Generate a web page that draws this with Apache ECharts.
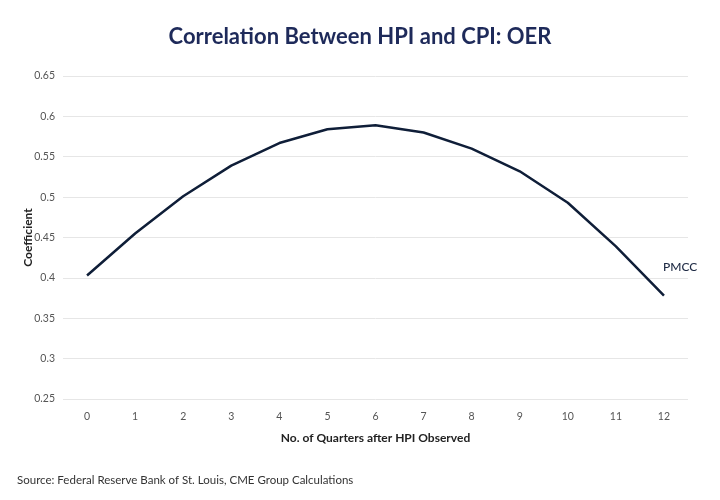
<!DOCTYPE html>
<html>
<head>
<meta charset="utf-8">
<script src="https://cdn.jsdelivr.net/npm/echarts@6/dist/echarts.min.js"></script>
<style>html,body{margin:0;padding:0;background:#fff}#c{width:720px;height:500px}</style>
</head>
<body>
<div id="c"></div>
<script>
const categories = ['0','1','2','3','4','5','6','7','8','9','10','11','12'];
const pmcc = [0.403,0.455,0.501,0.539,0.567,0.584,0.589,0.580,0.560,0.532,0.493,0.439,0.378];
const yTicks = [0.25,0.3,0.35,0.4,0.45,0.5,0.55,0.6,0.65];

const chart = echarts.init(document.getElementById('c'));
chart.setOption({
  animation:false,
  backgroundColor:'#fff',
  title:{
    text:'Correlation Between HPI and CPI: OER',
    left:'center', top:21,
    textStyle:{fontFamily:'Lato',fontWeight:'bold',fontSize:22,color:'#1e2a5a'}
  },
  graphic:[{
    type:'text', left:17, top:474,
    style:{text:'Source: Federal Reserve Bank of St. Louis, CME Group Calculations',fontFamily:'Lato',fontSize:11.5,fill:'#333'}
  }],
  grid:{left:63,right:32,top:76,bottom:101},
  xAxis:{
    type:'category', data:categories, boundaryGap:true,
    name:'No. of Quarters after HPI Observed', nameLocation:'middle', nameGap:33,
    nameTextStyle:{fontFamily:'Lato',fontWeight:'bold',fontSize:12,color:'#222'},
    axisLine:{show:false}, axisTick:{show:false},
    axisLabel:{fontFamily:'Lato',fontSize:10.5,color:'#555',margin:12}
  },
  yAxis:{
    type:'value', min:yTicks[0], max:yTicks[yTicks.length-1], interval:0.05,
    name:'Coefficient', nameLocation:'middle', nameGap:29, nameRotate:90, nameMoveOverlap:false,
    nameTextStyle:{fontFamily:'Lato',fontWeight:'bold',fontSize:12,color:'#222'},
    axisLine:{show:false}, axisTick:{show:false},
    axisLabel:{fontFamily:'Lato',fontSize:10.5,color:'#555',margin:8,
      formatter:v=>String(parseFloat(v.toFixed(2)))},
    splitLine:{lineStyle:{color:'#e6e6e6',width:1}}
  },
  series:[{
    type:'line', name:'PMCC', data:pmcc, symbol:'none',
    lineStyle:{color:'#0f1e38',width:2.5},
    endLabel:{show:true,formatter:'PMCC',fontFamily:'Lato',fontSize:12,fontWeight:500,color:'#1e2a44',
      offset:[-9,-29]}
  }]
});
</script>
</body>
</html>
